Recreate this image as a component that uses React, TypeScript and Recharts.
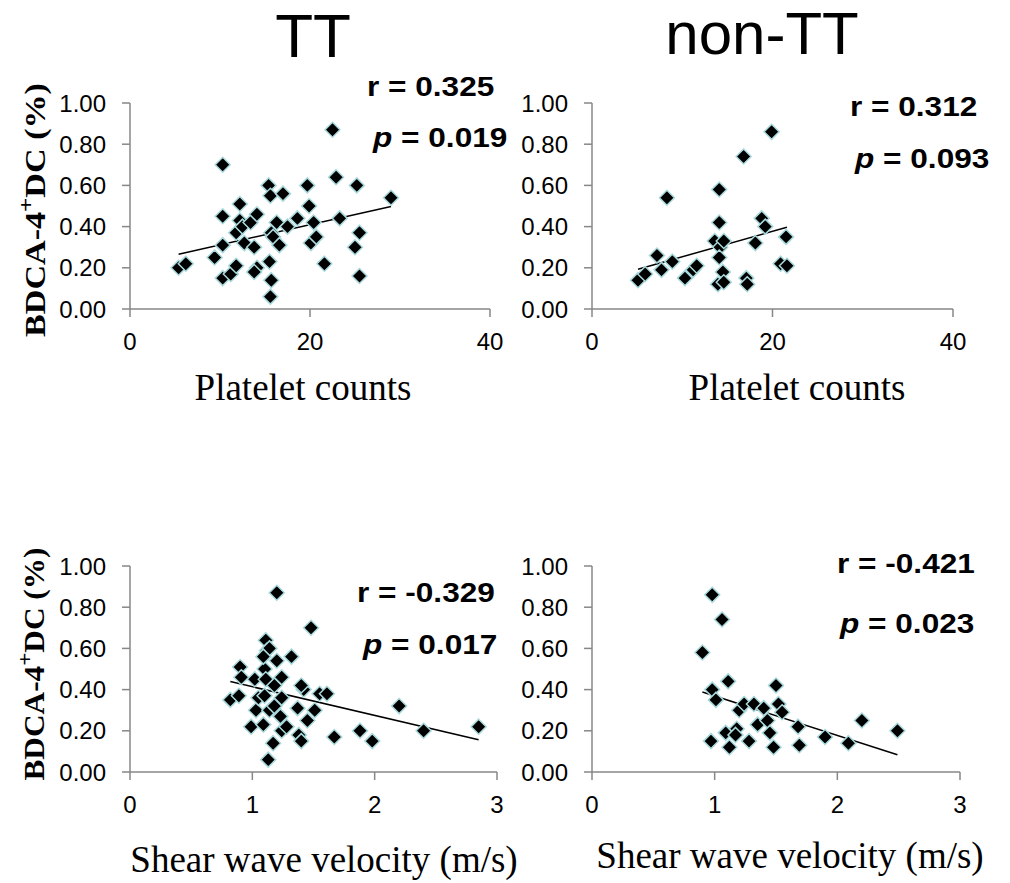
import React from "react";
import { ReferenceLine, Scatter, ScatterChart, XAxis, YAxis } from "recharts";

// TT – platelet counts
const ttPltX = [5.4, 6.2, 10.3, 10.3, 9.4, 10.3, 10.3, 11.2, 11.8, 12.2, 12.2, 11.8, 12.5, 12.7, 13.4, 14.1, 13.8, 14.1, 13.8, 15.4, 15.6, 17.0, 16.3, 15.7, 15.9, 16.6, 15.5, 15.7, 15.6, 17.5, 18.6, 19.7, 19.9, 20.4, 20.1, 20.7, 21.6, 22.5, 22.9, 23.3, 25.2, 25.0, 25.5, 25.5, 29.0];
const ttPltY = [0.2, 0.22, 0.7, 0.45, 0.25, 0.31, 0.15, 0.17, 0.21, 0.51, 0.43, 0.37, 0.4, 0.32, 0.42, 0.46, 0.3, 0.2, 0.18, 0.6, 0.55, 0.56, 0.42, 0.37, 0.35, 0.31, 0.23, 0.14, 0.06, 0.4, 0.44, 0.6, 0.5, 0.42, 0.32, 0.35, 0.22, 0.87, 0.64, 0.44, 0.6, 0.3, 0.37, 0.16, 0.54];
const ttPltTrend = [
  { x: 5.4, y: 0.266 },
  { x: 29.0, y: 0.498 },
];

// non-TT – platelet counts
const nonPltX = [5.1, 5.9, 7.2, 7.7, 8.3, 8.9, 10.3, 11.2, 11.6, 13.6, 14.1, 14.1, 14.2, 14.6, 14.1, 14.5, 13.95, 14.6, 16.8, 17.1, 17.2, 18.1, 18.8, 19.2, 19.9, 21.5, 20.9, 21.6];
const nonPltY = [0.14, 0.17, 0.26, 0.19, 0.54, 0.23, 0.15, 0.19, 0.21, 0.33, 0.58, 0.42, 0.3, 0.33, 0.25, 0.18, 0.12, 0.13, 0.74, 0.15, 0.12, 0.32, 0.44, 0.4, 0.86, 0.35, 0.22, 0.21];
const nonPltTrend = [
  { x: 5.1, y: 0.193 },
  { x: 21.6, y: 0.397 },
];

// TT – shear wave velocity
const ttSwvX = [0.82, 0.89, 0.9, 0.91, 0.99, 1.03, 1.02, 1.05, 1.09, 1.1, 1.1, 1.11, 1.12, 1.14, 1.09, 1.11, 1.14, 1.13, 1.17, 1.18, 1.2, 1.2, 1.18, 1.24, 1.24, 1.24, 1.23, 1.28, 1.32, 1.37, 1.38, 1.4, 1.42, 1.4, 1.45, 1.48, 1.51, 1.55, 1.61, 1.67, 1.88, 1.98, 2.2, 2.4, 2.85];
const ttSwvY = [0.35, 0.37, 0.51, 0.46, 0.22, 0.3, 0.45, 0.36, 0.23, 0.37, 0.5, 0.64, 0.59, 0.6, 0.56, 0.45, 0.3, 0.06, 0.14, 0.32, 0.87, 0.54, 0.42, 0.46, 0.36, 0.2, 0.27, 0.22, 0.56, 0.31, 0.18, 0.15, 0.4, 0.42, 0.25, 0.7, 0.3, 0.38, 0.38, 0.17, 0.2, 0.15, 0.32, 0.2, 0.22];
const ttSwvTrend = [
  { x: 0.82, y: 0.439 },
  { x: 2.85, y: 0.157 },
];

// non-TT – shear wave velocity
const nonSwvX = [0.9, 0.98, 0.97, 0.98, 1.01, 1.06, 1.09, 1.11, 1.12, 1.18, 1.17, 1.2, 1.24, 1.28, 1.32, 1.35, 1.4, 1.43, 1.45, 1.48, 1.5, 1.52, 1.55, 1.68, 1.69, 1.9, 2.09, 2.2, 2.49];
const nonSwvY = [0.58, 0.86, 0.15, 0.4, 0.35, 0.74, 0.19, 0.44, 0.12, 0.21, 0.18, 0.3, 0.33, 0.15, 0.33, 0.23, 0.31, 0.25, 0.19, 0.12, 0.42, 0.33, 0.29, 0.22, 0.13, 0.17, 0.14, 0.25, 0.2];
const nonSwvTrend = [
  { x: 0.9, y: 0.388 },
  { x: 2.49, y: 0.084 },
];

const yTicks = [0, 0.2, 0.4, 0.6, 0.8, 1.0];
const pltTicks = [0, 20, 40];
const swvTicks = [0, 1, 2, 3];

const AXIS = "#878787";
const SANS = "'Liberation Sans', Arial, sans-serif";
const SERIF = "'Liberation Serif', 'Times New Roman', serif";

const Diamond = (props: any) => {
  const { cx, cy } = props;
  const r = 7.5;
  return (
    <polygon
      points={`${cx},${cy - r} ${cx + r},${cy} ${cx},${cy + r} ${cx - r},${cy}`}
      fill="#000"
      stroke="#a9d9dc"
      strokeWidth={1.5}
    />
  );
};

type PanelProps = {
  xs: number[];
  ys: number[];
  trend: { x: number; y: number }[];
  xTicks: number[];
  box: { left: number; right: number; top: number; bottom: number };
};

function Panel({ xs, ys, trend, xTicks, box }: PanelProps) {
  const data = xs.map((x, i) => ({ x, y: ys[i] }));
  const left = box.left - 130;
  const top = box.top - 40;
  const width = box.right + 30 - left;
  const height = box.bottom + 55 - top;
  const tick = { fill: "#000", fontSize: 24, fontFamily: SANS };

  return (
    <div style={{ position: "absolute", left, top }}>
      <ScatterChart width={width} height={height} margin={{ top: 40, right: 30, bottom: 0, left: 0 }}>
        <XAxis
          type="number"
          dataKey="x"
          domain={[xTicks[0], xTicks[xTicks.length - 1]]}
          ticks={xTicks}
          height={55}
          tick={tick}
          tickSize={8}
          tickMargin={16}
          axisLine={{ stroke: AXIS, strokeWidth: 1.5 }}
          tickLine={{ stroke: AXIS, strokeWidth: 1.5 }}
        />
        <YAxis
          type="number"
          dataKey="y"
          domain={[0, 1]}
          ticks={yTicks}
          width={130}
          tick={tick}
          tickSize={8}
          tickMargin={16}
          tickFormatter={(v: number) => v.toFixed(2)}
          axisLine={{ stroke: AXIS, strokeWidth: 1.5 }}
          tickLine={{ stroke: AXIS, strokeWidth: 1.5 }}
        />
        <ReferenceLine
          segment={trend}
          stroke="#000"
          strokeWidth={1.5}
          ifOverflow="visible"
        />
        <Scatter data={data} shape={Diamond} isAnimationActive={false} />
      </ScatterChart>
    </div>
  );
}

// the r / p annotations in the source are stretched sideways, so scale them
function Stat({ x, y, italic, label, value }: { x: number; y: number; italic?: boolean; label: string; value: string }) {
  return (
    <text
      transform={`translate(${x}, ${y}) scale(1.17, 1)`}
      fontFamily={SANS}
      fontWeight="bold"
      fontSize={27}
    >
      <tspan fontStyle={italic ? "italic" : "normal"}>{label}</tspan>
      {` = ${value}`}
    </text>
  );
}

function YLabel({ x, y, len }: { x: number; y: number; len: number }) {
  return (
    <text
      x={x}
      y={y}
      transform={`rotate(-90, ${x}, ${y})`}
      textAnchor="middle"
      fontFamily={SERIF}
      fontWeight="bold"
      fontSize={30}
      textLength={len}
      lengthAdjust="spacingAndGlyphs"
    >
      BDCA-4
      <tspan baselineShift="super" fontSize={22}>+</tspan>
      <tspan>DC (%)</tspan>
    </text>
  );
}

export default function App() {
  return (
    <div style={{ position: "absolute", left: 0, top: 0, width: 1010, height: 883, background: "#fff" }}>
      <Panel xs={ttPltX} ys={ttPltY} trend={ttPltTrend} xTicks={pltTicks} box={{ left: 130, right: 490, top: 103, bottom: 309 }} />
      <Panel xs={nonPltX} ys={nonPltY} trend={nonPltTrend} xTicks={pltTicks} box={{ left: 592, right: 953, top: 103, bottom: 309 }} />
      <Panel xs={ttSwvX} ys={ttSwvY} trend={ttSwvTrend} xTicks={swvTicks} box={{ left: 130, right: 497, top: 566, bottom: 772 }} />
      <Panel xs={nonSwvX} ys={nonSwvY} trend={nonSwvTrend} xTicks={swvTicks} box={{ left: 592, right: 960, top: 566, bottom: 772 }} />

      <svg width={1010} height={883} style={{ position: "absolute", left: 0, top: 0, pointerEvents: "none" }}>
        <text x={313} y={57} textAnchor="middle" fontFamily={SANS} fontSize={62}>TT</text>
        <text x={762} y={54} textAnchor="middle" fontFamily={SANS} fontSize={60}>non-TT</text>

        <Stat x={367} y={96} label="r" value="0.325" />
        <Stat x={373} y={147} italic label="p" value="0.019" />
        <Stat x={850} y={116} label="r" value="0.312" />
        <Stat x={855} y={168} italic label="p" value="0.093" />
        <Stat x={357} y={602} label="r" value="-0.329" />
        <Stat x={363} y={654} italic label="p" value="0.017" />
        <Stat x={837} y={573} label="r" value="-0.421" />
        <Stat x={840} y={633} italic label="p" value="0.023" />

        <YLabel x={45} y={210} len={254} />
        <YLabel x={44} y={664} len={233} />

        <text x={303} y={400} textAnchor="middle" fontFamily={SERIF} fontSize={37}>Platelet counts</text>
        <text x={797} y={400} textAnchor="middle" fontFamily={SERIF} fontSize={37}>Platelet counts</text>
        <text x={324} y={872} textAnchor="middle" fontFamily={SERIF} fontSize={37}>Shear wave velocity (m/s)</text>
        <text x={790} y={868} textAnchor="middle" fontFamily={SERIF} fontSize={37}>Shear wave velocity (m/s)</text>
      </svg>
    </div>
  );
}
